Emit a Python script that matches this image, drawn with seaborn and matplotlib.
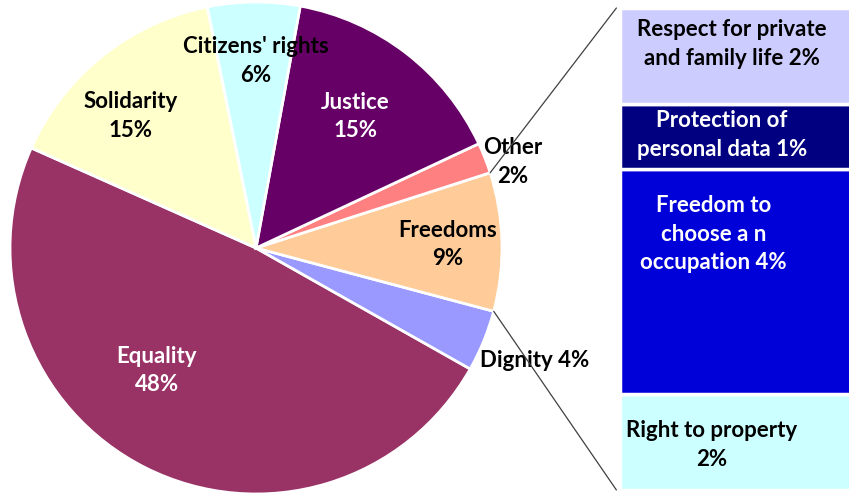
import matplotlib
matplotlib.use("Agg")
import numpy as np
import matplotlib.pyplot as plt
from matplotlib.patches import ConnectionPatch
import seaborn as sns

# main pie (counter-clockwise from Equality)
pie_names = ["Equality", "Dignity", "Freedoms", "Other", "Justice", "Citizens' rights", "Solidarity"]
pie_values = [48, 4, 9, 2, 15, 6, 15]
pie_colors = ["#993366", "#9999FF", "#FFCC99", "#FF8080", "#660066", "#CCFFFF", "#FFFFCC"]
pie_text_colors = ["white", "black", "black", "black", "white", "black", "black"]

# breakdown of "Freedoms" (bottom to top of the bar)
sub_names = ["Right to property", "Freedom to\nchoose a n\noccupation", "Protection of\npersonal data",
             "Respect for private\nand family life"]
sub_values = [1.8, 4.2, 1.2, 1.8]
sub_pct = [2, 4, 1, 2]
sub_colors = ["#CCFFFF", "#0000D8", "#000080", "#CCCCFF"]
sub_text_colors = ["black", "white", "white", "black"]

sns.set_theme(style="white")
plt.rcParams['font.family'] = ['Lato', 'DejaVu Sans']
FS = 16
LS = 1.45

fig = plt.figure(figsize=(8.49, 4.93), dpi=100)

# ---- pie ----
ax_pie = fig.add_axes([10 / 849, -1 / 493, 492 / 849, 492 / 493])
wedges, _ = ax_pie.pie(pie_values, colors=pie_colors, startangle=156, counterclock=True,
                       radius=1, wedgeprops=dict(edgecolor="white", linewidth=2))
ax_pie.set_xlim(-1, 1)
ax_pie.set_ylim(-1, 1)
ax_pie.set_aspect("equal")
ax_pie.axis("off")

# label placement: (radius, angle in degrees)
label_place = [(0.64, 231), (1.22, -22), (0.78, 1), (1.1, 18.5), (0.67, 53), (0.76, 90), (0.74, 133.5)]
for name, val, col, (r, a) in zip(pie_names, pie_values, pie_text_colors, label_place):
    sep = " " if name == "Dignity" else "\n"
    ax_pie.text(r * np.cos(np.radians(a)), r * np.sin(np.radians(a)), f"{name}{sep}{val}%",
                ha="center", va="center", ma="center", color=col, fontsize=FS,
                fontweight="bold", linespacing=LS, clip_on=False)

# ---- stacked bar for Freedoms ----
ax_bar = fig.add_axes([620 / 849, 3 / 493, 240 / 849, 482 / 493])
bottoms = np.concatenate([[0], np.cumsum(sub_values)[:-1]])
ax_bar.bar(0, sub_values, bottom=bottoms, width=1, align="edge", color=sub_colors,
           edgecolor="white", linewidth=2.5)
ax_bar.set_xlim(0, 1)
ax_bar.set_ylim(0, sum(sub_values))
ax_bar.axis("off")

# text anchors: x inside the bar, drop below each segment top (points)
text_x = [0.383, 0.39, 0.425, 0.467]
text_drop = [19, 19, 4, 8]
for name, pct, b, v, col, tx, d in zip(sub_names, sub_pct, bottoms, sub_values, sub_text_colors,
                                       text_x, text_drop):
    sep = "\n" if name == "Right to property" else " "
    ax_bar.annotate(f"{name}{sep}{pct}%", xy=(tx, b + v), xytext=(0, -d), textcoords="offset points",
                    ha="center", va="top", ma="center", color=col, fontsize=FS,
                    fontweight="bold", linespacing=LS)

# ---- connector lines ----
fw = wedges[pie_names.index("Freedoms")]
top_ang, bot_ang = np.radians(fw.theta2), np.radians(fw.theta1)
total = sum(sub_values)
for ang, yb in [(top_ang, total), (bot_ang, 0)]:
    con = ConnectionPatch(xyA=(1.0 * np.cos(ang), 1.0 * np.sin(ang)), coordsA=ax_pie.transData,
                          xyB=(-0.015, yb), coordsB=ax_bar.transData, color="#404040", linewidth=0.9)
    fig.add_artist(con)

fig.savefig("out.png", dpi=100, facecolor="white")
